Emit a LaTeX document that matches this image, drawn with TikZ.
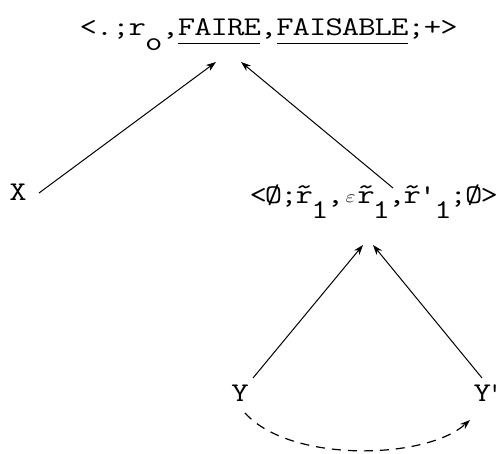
\documentclass[tikz,border=0pt]{standalone}
\usepackage{fontspec}
\usepackage{graphicx}
\usetikzlibrary{arrows.meta,calc}
\newlength\pitch
\newcommand\cc[1]{\makebox[\pitch]{\scalebox{1.25}[1]{#1}}}
\def\sEnd{\sEnd}
\def\s#1{\sA#1\sEnd}
\def\sA#1{\ifx#1\sEnd\else\cc{#1}\expandafter\sA\fi}
\newcommand\ul[1]{\setbox0\hbox{\s{#1}}\rlap{\raisebox{-8pt}{\rule{\wd0}{1.4pt}}}\box0}
\newcommand\sub[1]{\raisebox{-15pt}{#1}}
\newcommand\tr{\ooalign{r\cr\hidewidth\raisebox{0.3em}{\textasciitilde}\hidewidth\cr}}
\newcommand\eps{\raisebox{1pt}{\fontsize{19}{19}\selectfont$\varepsilon$}}
\tikzset{
  tw/.style={inner sep=0pt,font=\ttfamily\fontsize{27}{30}\selectfont\addfontfeature{FakeBold=1.5}},
  arr/.style={line width=1pt,-{Stealth[length=10pt,width=7pt,inset=3pt]}},
  darr/.style={line width=1.2pt,dash pattern=on 9pt off 7pt,-{Stealth[length=10pt,width=7pt,inset=3pt]}}
}
\begin{document}
\begin{tikzpicture}[x=1pt,y=-1pt]
\useasboundingbox (0,0) rectangle (501,454);
\node[tw,anchor=base west] (T) at (79.8,36)
  {\setlength\pitch{16.4pt}\s{<.;r}\cc{\sub{o}}\s{,}\ul{FAIRE}\s{,}\ul{FAISABLE}\s{;+>}};
\node[tw,anchor=base] (X) at (18,201) {\setlength\pitch{16pt}\s{X}};
\node[tw,anchor=base west] (M) at (250.3,204)
  {\setlength\pitch{15.4pt}\s{<Ø;}\cc{\tr}\cc{\sub{1}}\s{,}\cc{\eps}\cc{\tr}\cc{\sub{1}}\s{,}\cc{\tr}\s{'}\cc{\sub{1}}\s{;Ø>}};
\node[tw,anchor=base] (Y) at (240,402) {\setlength\pitch{15.4pt}\s{Y}};
\node[tw,anchor=base west] (Yp) at (474.3,402) {\setlength\pitch{15.4pt}\s{Y}\makebox[10pt]{'}};
\draw[arr] ($(X.base)+(21,-8)$) -- ($(T.base west)+(136.2,26)$);
\draw[arr] ($(M.base west)+(142.7,-16)$) -- ($(T.base west)+(161.2,26)$);
\draw[arr] ($(Y.base)+(13,-24)$) -- ($(M.base west)+(112.7,41)$);
\draw[arr] ($(Yp.base west)+(7.7,-24)$) -- ($(M.base west)+(122.7,41)$);
\draw[darr] ($(Y.base)+(5,11)$) .. controls (290,463) and (425,460) .. ($(Yp.base west)+(-4.3,18)$);
\end{tikzpicture}
\end{document}
